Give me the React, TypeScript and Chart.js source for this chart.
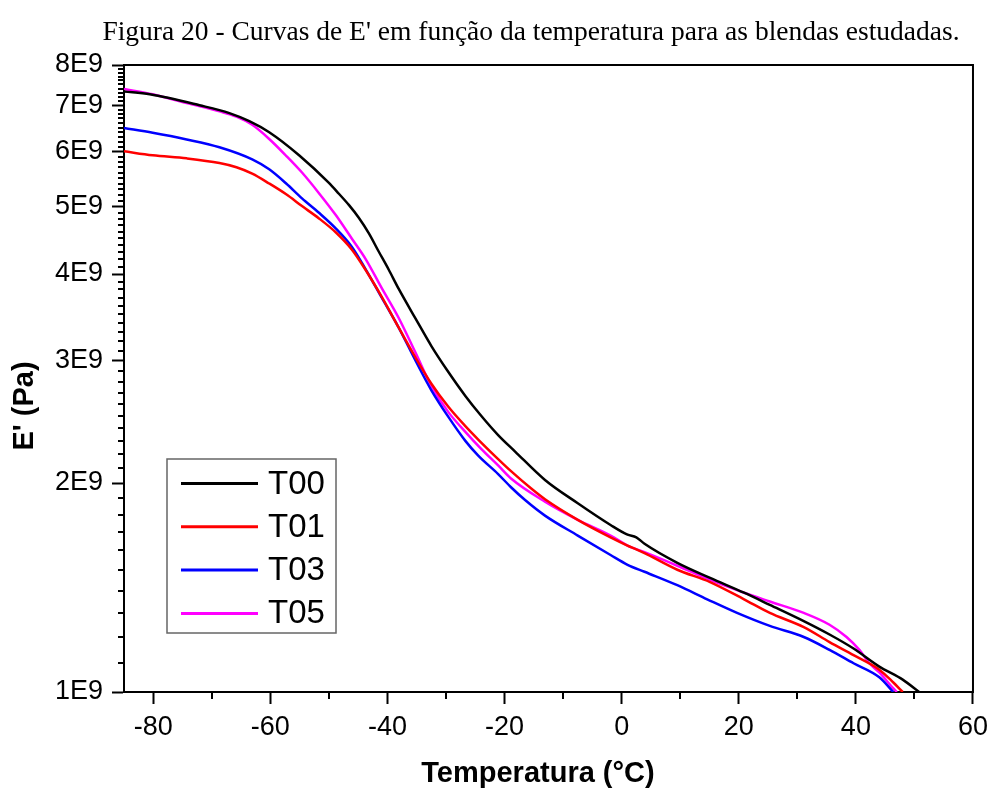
import React, { useEffect, useRef } from "react";
import { Chart, registerables } from "chart.js";

Chart.register(...registerables);

const chartTitle = "Figura 20 - Curvas de E' em função da temperatura para as blendas estudadas.";
const xAxisTitle = "Temperatura (°C)";
const yAxisTitle = "E' (Pa)";

const seriesLabels = ["T00", "T01", "T03", "T05"];
const seriesColors = ["#000000", "#ff0000", "#0000ff", "#ff00ff"];

const xTickValues = [-80, -60, -40, -20, 0, 20, 40, 60];
const xMinorTickValues = [-70, -50, -30, -10, 10, 30, 50];
const yTickValues = [1e9, 2e9, 3e9, 4e9, 5e9, 6e9, 7e9, 8e9];
const yTickLabels = ["1E9", "2E9", "3E9", "4E9", "5E9", "6E9", "7E9", "8E9"];
const yMinorSteps = [0.1, 0.2, 0.3, 0.4, 0.5, 0.6, 0.7, 0.8, 0.9];

const t00Temp = [-85, -80.6, -72.1, -67.0, -63.6, -60.2, -55.1, -50.0, -48.3, -46.6, -44.9, -43.2, -41.5, -39.8, -38.1, -35.2, -32.5, -29.6, -26.7, -24.0, -21.1, -18.2, -13.1, -7.5, -1.9, 1.0, 2.5, 3.9, 9.5, 15.1, 20.9, 25.3, 31.1, 35.5, 39.6, 44.0, 48.0, 50.8];
const t00Modulus = [7.33e9, 7.26e9, 7.0e9, 6.82e9, 6.64e9, 6.4e9, 5.93e9, 5.41e9, 5.22e9, 5.03e9, 4.82e9, 4.58e9, 4.31e9, 4.06e9, 3.81e9, 3.45e9, 3.15e9, 2.89e9, 2.67e9, 2.5e9, 2.345e9, 2.22e9, 2.02e9, 1.87e9, 1.74e9, 1.685e9, 1.67e9, 1.635e9, 1.535e9, 1.46e9, 1.39e9, 1.335e9, 1.265e9, 1.21e9, 1.155e9, 1.088e9, 1.042e9, 1.0e9];

const t01Temp = [-85, -80.1, -74.3, -68.7, -65.8, -63.1, -60.2, -57.3, -54.6, -51.7, -48.8, -46.1, -43.7, -41.0, -38.1, -35.2, -32.5, -29.6, -26.7, -24.5, -21.1, -18.9, -15.5, -13.1, -7.5, -1.9, 1.0, 2.5, 3.9, 9.5, 15.1, 20.9, 25.3, 31.1, 35.5, 39.6, 44.0, 46.4, 48.0];
const t01Modulus = [6.01e9, 5.93e9, 5.87e9, 5.78e9, 5.7e9, 5.58e9, 5.4e9, 5.21e9, 5.01e9, 4.81e9, 4.59e9, 4.34e9, 4.05e9, 3.71e9, 3.35e9, 3.03e9, 2.78e9, 2.575e9, 2.415e9, 2.31e9, 2.165e9, 2.08e9, 1.965e9, 1.895e9, 1.77e9, 1.67e9, 1.625e9, 1.605e9, 1.585e9, 1.5e9, 1.44e9, 1.36e9, 1.3e9, 1.24e9, 1.18e9, 1.13e9, 1.077e9, 1.032e9, 1.0e9];

const t03Temp = [-85, -80.1, -74.3, -68.7, -63.1, -60.2, -57.3, -54.6, -51.7, -48.8, -46.1, -43.7, -41.0, -38.1, -35.2, -32.5, -29.6, -26.7, -24.5, -21.1, -18.9, -16.5, -13.1, -7.5, -1.9, 1.0, 3.9, 9.5, 14.6, 19.7, 25.3, 31.1, 35.5, 39.6, 44.0, 46.4];
const t03Modulus = [6.49e9, 6.39e9, 6.25e9, 6.09e9, 5.85e9, 5.66e9, 5.4e9, 5.14e9, 4.9e9, 4.65e9, 4.38e9, 4.06e9, 3.7e9, 3.35e9, 3.0e9, 2.72e9, 2.49e9, 2.3e9, 2.19e9, 2.06e9, 1.972e9, 1.89e9, 1.795e9, 1.68e9, 1.575e9, 1.525e9, 1.49e9, 1.425e9, 1.36e9, 1.3e9, 1.245e9, 1.2e9, 1.15e9, 1.1e9, 1.05e9, 1.0e9];

const t05Temp = [-85, -80.1, -74.3, -68.7, -65.8, -63.1, -60.2, -57.3, -54.6, -51.7, -48.8, -46.1, -43.7, -41.0, -38.1, -35.2, -32.5, -29.6, -26.7, -24.0, -21.1, -18.9, -13.1, -7.5, -1.9, 1.0, 3.9, 9.5, 15.1, 20.9, 25.3, 31.1, 35.5, 38.4, 40.6, 42.3, 44.0, 46.4, 47.0];
const t05Modulus = [7.39e9, 7.26e9, 7.05e9, 6.86e9, 6.74e9, 6.56e9, 6.26e9, 5.92e9, 5.6e9, 5.23e9, 4.86e9, 4.5e9, 4.2e9, 3.82e9, 3.46e9, 3.08e9, 2.76e9, 2.53e9, 2.37e9, 2.24e9, 2.12e9, 2.03e9, 1.88e9, 1.77e9, 1.68e9, 1.625e9, 1.59e9, 1.52e9, 1.45e9, 1.39e9, 1.35e9, 1.3e9, 1.25e9, 1.2e9, 1.15e9, 1.1e9, 1.067e9, 1.012e9, 1.0e9];

const seriesTemps = [t00Temp, t01Temp, t03Temp, t05Temp];
const seriesModuli = [t00Modulus, t01Modulus, t03Modulus, t05Modulus];

const SANS = '"Liberation Sans", Arial, sans-serif';
const SERIF = '"Liberation Serif", "Times New Roman", serif';

const decorPlugin = {
  id: "decor",
  afterDraw(chart: any) {
    const { ctx, chartArea: a, scales } = chart;
    const xs = scales.x;
    const ys = scales.y;
    ctx.save();
    ctx.strokeStyle = "#000";
    ctx.lineWidth = 2;
    ctx.beginPath();
    ctx.moveTo(a.left - 1, a.top);
    ctx.lineTo(a.right, a.top);
    ctx.lineTo(a.right, a.bottom + 1);
    ctx.stroke();

    ctx.beginPath();
    for (const v of xMinorTickValues) {
      const px = Math.round(xs.getPixelForValue(v));
      ctx.moveTo(px, a.bottom);
      ctx.lineTo(px, a.bottom + 7);
    }
    for (let i = 0; i < yTickValues.length - 1; i++) {
      for (const s of yMinorSteps) {
        const v = yTickValues[i] + s * 1e9;
        const py = Math.round(ys.getPixelForValue(v));
        ctx.moveTo(a.left, py);
        ctx.lineTo(a.left - 6, py);
      }
    }
    ctx.stroke();

    // chart title
    ctx.fillStyle = "#000";
    ctx.font = `27.5px ${SERIF}`;
    ctx.textAlign = "center";
    ctx.textBaseline = "alphabetic";
    ctx.fillText(chartTitle, 531, 40);

    // axis titles
    ctx.font = `bold 29px ${SANS}`;
    ctx.fillText(xAxisTitle, 538, 782);
    ctx.save();
    ctx.translate(33, 406);
    ctx.rotate(-Math.PI / 2);
    ctx.fillText(yAxisTitle, 0, 0);
    ctx.restore();

    // legend
    const lx = 167, ly = 459, lw = 169, lh = 174;
    ctx.fillStyle = "#fff";
    ctx.fillRect(lx, ly, lw, lh);
    ctx.strokeStyle = "#666";
    ctx.lineWidth = 1.5;
    ctx.strokeRect(lx, ly, lw, lh);
    ctx.font = `33px ${SANS}`;
    ctx.textAlign = "left";
    ctx.textBaseline = "middle";
    chart.data.datasets.forEach((ds: any, i: number) => {
      const cy = 483.5 + i * 43.3;
      ctx.strokeStyle = ds.borderColor;
      ctx.lineWidth = 3;
      ctx.beginPath();
      ctx.moveTo(181, cy);
      ctx.lineTo(258, cy);
      ctx.stroke();
      ctx.fillStyle = "#000";
      ctx.fillText(ds.label, 268, cy + 1);
    });
    ctx.restore();
  },
};

export default function App() {
  const canvasRef = useRef<HTMLCanvasElement | null>(null);

  useEffect(() => {
    const canvas = canvasRef.current;
    if (!canvas) return;
    const datasets = seriesLabels.map((label, i) => ({
      label,
      data: seriesTemps[i].map((t, j) => ({ x: t, y: seriesModuli[i][j] })),
      borderColor: seriesColors[i],
      backgroundColor: seriesColors[i],
      borderWidth: 2.5,
      pointRadius: 0,
      cubicInterpolationMode: "monotone" as const,
      fill: false,
    }));

    const chart = new Chart(canvas, {
      type: "line",
      data: { datasets },
      options: {
        responsive: false,
        animation: false,
        layout: { padding: { left: 0, right: 19, top: 65, bottom: 0 } },
        plugins: {
          legend: { display: false },
          title: { display: false },
          tooltip: { enabled: false },
        },
        scales: {
          x: {
            type: "linear",
            min: -85,
            max: 60,
            afterBuildTicks: (axis: any) => {
              axis.ticks = xTickValues.map((value) => ({ value }));
            },
            afterFit: (axis: any) => {
              axis.height = 96;
            },
            ticks: {
              color: "#000",
              font: { family: SANS, size: 27 },
              padding: 7,
              maxRotation: 0,
              autoSkip: false,
            },
            grid: {
              drawOnChartArea: false,
              drawTicks: true,
              tickLength: 12,
              tickWidth: 2,
              tickColor: "#000",
            },
            border: { display: true, color: "#000", width: 2 },
          },
          y: {
            type: "logarithmic",
            min: 1e9,
            max: 8e9,
            afterBuildTicks: (axis: any) => {
              axis.ticks = yTickValues.map((value) => ({ value }));
            },
            afterFit: (axis: any) => {
              axis.width = 124;
            },
            ticks: {
              color: "#000",
              font: { family: SANS, size: 27 },
              padding: 9,
              autoSkip: false,
              callback: (value: any) => {
                const idx = yTickValues.indexOf(Number(value));
                return idx >= 0 ? yTickLabels[idx] : "";
              },
            },
            grid: {
              drawOnChartArea: false,
              drawTicks: true,
              tickLength: 12,
              tickWidth: 2,
              tickColor: "#000",
            },
            border: { display: true, color: "#000", width: 2 },
          },
        },
      },
      plugins: [decorPlugin],
    });
    return () => chart.destroy();
  }, []);

  return (
    <div style={{ position: "absolute", left: 0, top: 0, width: 995, height: 788, background: "#fff" }}>
      <canvas ref={canvasRef} width={995} height={788} style={{ display: "block" }} />
    </div>
  );
}
